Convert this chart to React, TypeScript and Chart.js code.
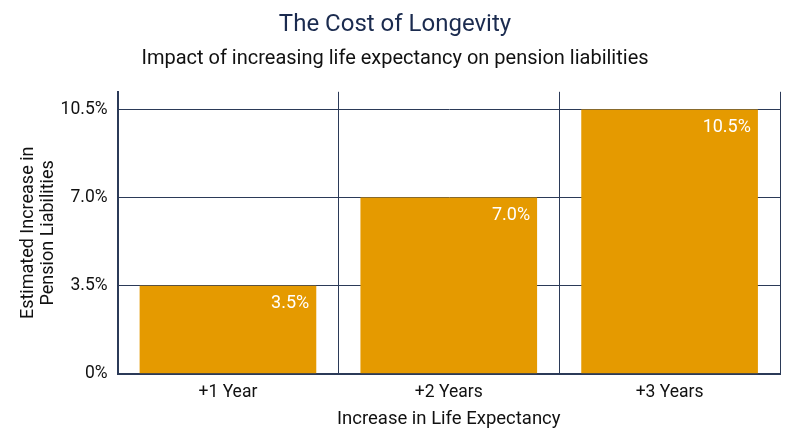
import { useEffect, useRef } from 'react'
import { Chart, registerables } from 'chart.js'

Chart.register(...registerables)

const CATEGORIES = ['+1 Year', '+2 Years', '+3 Years']
const INCREASES = [3.5, 7.0, 10.5]
const Y_TICKS = [0, 3.5, 7, 10.5]

const BAR_COLOR = '#E59A00'
const GRID_COLOR = '#2B3A58'
const FONT = 'Roboto, "Noto Sans", sans-serif'

const fmtTick = (v: number) => (v === 0 ? '0%' : v.toFixed(1) + '%')

// draws the value in the top right corner of each bar
const barLabels = {
  id: 'barLabels',
  afterDatasetsDraw(chart: any) {
    const ctx = chart.ctx
    const meta = chart.getDatasetMeta(0)
    ctx.save()
    ctx.fillStyle = '#FFFFFF'
    ctx.font = `18px ${FONT}`
    ctx.textAlign = 'right'
    ctx.textBaseline = 'top'
    meta.data.forEach((bar: any, i: number) => {
      const half = bar.width / 2
      ctx.fillText(INCREASES[i].toFixed(1) + '%', bar.x + half - 7, bar.y + 9)
    })
    ctx.restore()
  },
}

export default function App() {
  const ref = useRef<HTMLCanvasElement>(null)

  useEffect(() => {
    document.body.style.margin = '0'
    if (!ref.current) return
    const chart = new Chart(ref.current, {
      type: 'bar',
      data: {
        labels: CATEGORIES,
        datasets: [{
          data: INCREASES,
          backgroundColor: BAR_COLOR,
          borderWidth: 0,
          categoryPercentage: 0.8,
          barPercentage: 1,
        }],
      },
      options: {
        responsive: true,
        maintainAspectRatio: false,
        animation: false,
        layout: { padding: { top: 0, right: 20, left: 10, bottom: 17 } },
        plugins: {
          legend: { display: false },
          tooltip: { enabled: false },
          title: {
            display: true,
            text: 'The Cost of Longevity',
            color: '#1B2B4F',
            font: { family: FONT, size: 24, weight: 'normal' },
            padding: { top: 11, bottom: 7 },
          },
          subtitle: {
            display: true,
            text: 'Impact of increasing life expectancy on pension liabilities',
            color: '#111111',
            font: { family: FONT, size: 20 },
            padding: { top: 0, bottom: 21 },
          },
        },
        scales: {
          x: {
            grid: { display: true, offset: true, color: GRID_COLOR, drawTicks: false },
            border: { color: GRID_COLOR, width: 2 },
            ticks: { color: '#111111', font: { family: FONT, size: 17.5 }, padding: 8.5 },
            title: {
              display: true,
              text: 'Increase in Life Expectancy',
              color: '#111111',
              font: { family: FONT, size: 18.5 },
              padding: { top: -4, bottom: 0 },
            },
          },
          y: {
            min: 0,
            max: 11.2,
            afterBuildTicks: (axis: any) => {
              axis.ticks = Y_TICKS.map(v => ({ value: v }))
            },
            grid: { color: GRID_COLOR, drawTicks: false },
            border: { color: GRID_COLOR, width: 2 },
            ticks: {
              color: '#111111',
              font: { family: FONT, size: 17.5 },
              padding: 10,
              callback: (v: any) => fmtTick(Number(v)),
            },
            title: {
              display: true,
              text: ['Estimated Increase in', 'Pension Liabilities'],
              color: '#111111',
              font: { family: FONT, size: 18, lineHeight: 1.1 },
              padding: { top: 9, bottom: -8 },
            },
          },
        },
      },
      plugins: [barLabels],
    })
    return () => chart.destroy()
  }, [])

  return (
    <div style={{ position: 'relative', width: 800, height: 447, background: '#FFFFFF' }}>
      <canvas ref={ref} />
    </div>
  )
}
